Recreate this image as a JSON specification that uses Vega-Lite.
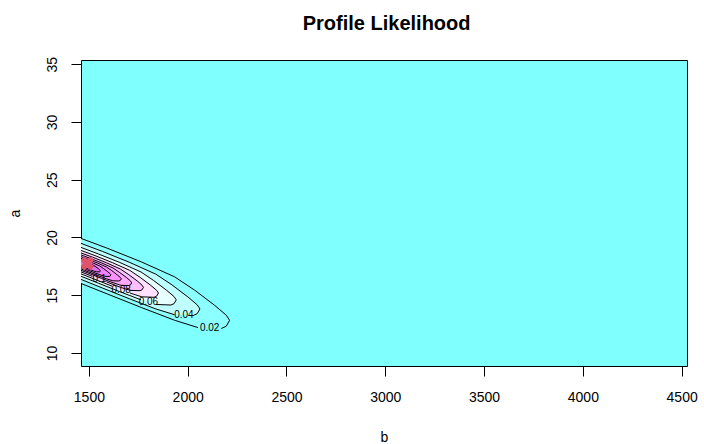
{
  "$schema": "https://vega.github.io/schema/vega-lite/v6.json",
  "width": 606,
  "height": 306,
  "autosize": "none",
  "padding": {"left": 81, "top": 60, "right": 17, "bottom": 78},
  "background": "white",
  "config": {
    "view": {"fill": "#80FFFF", "stroke": "black", "strokeWidth": 1},
    "font": "Liberation Sans",
    "axis": {
      "domain": false, "grid": false, "tickColor": "black", "tickSize": 10,
      "labelColor": "black", "labelFontSize": 14, "labelFont": "Liberation Sans",
      "titleColor": "black", "titleFontSize": 14, "titleFont": "Liberation Sans", "titleFontWeight": "normal",
      "labelFlush": false, "labelOverlap": false
    }
  },
  "title": {"text": "Profile Likelihood", "fontSize": 20, "fontWeight": "bold", "font": "Liberation Sans", "color": "black", "anchor": "middle", "frame": "group", "baseline": "alphabetic", "offset": 6.4, "dx": 2.6},
  "datasets": {
    "contours": [
      {"lev":0.02,"i":1,"b":1460,"a":19.92,"seg":1},{"lev":0.02,"i":2,"b":1596,"a":19.05,"seg":1},{"lev":0.02,"i":3,"b":1765,"a":17.89,"seg":1},{"lev":0.02,"i":4,"b":1934,"a":16.59,"seg":1},{"lev":0.02,"i":5,"b":2035,"a":15.44,"seg":1},{"lev":0.02,"i":6,"b":2136,"a":14.13,"seg":1},{"lev":0.02,"i":7,"b":2195,"a":13.27,"seg":1},{"lev":0.02,"i":8,"b":2212,"a":12.83,"seg":1},{"lev":0.02,"i":9,"b":2195,"a":12.31,"seg":1},{"lev":0.02,"i":10,"b":2170,"a":12.12,"seg":1},{"lev":0.02,"i":11,"b":2052,"a":12.20,"seg":2},{"lev":0.02,"i":12,"b":1934,"a":12.83,"seg":2},{"lev":0.02,"i":13,"b":1765,"a":13.94,"seg":2},{"lev":0.02,"i":14,"b":1596,"a":15.09,"seg":2},{"lev":0.02,"i":15,"b":1460,"a":16.02,"seg":2},
      {"lev":0.04,"i":1,"b":1460,"a":19.49,"seg":1},{"lev":0.04,"i":2,"b":1569,"a":18.79,"seg":1},{"lev":0.04,"i":3,"b":1704,"a":17.86,"seg":1},{"lev":0.04,"i":4,"b":1839,"a":16.82,"seg":1},{"lev":0.04,"i":5,"b":1920,"a":15.90,"seg":1},{"lev":0.04,"i":6,"b":2001,"a":14.85,"seg":1},{"lev":0.04,"i":7,"b":2048,"a":14.17,"seg":1},{"lev":0.04,"i":8,"b":2062,"a":13.81,"seg":1},{"lev":0.04,"i":9,"b":2048,"a":13.40,"seg":1},{"lev":0.04,"i":10,"b":2028,"a":13.25,"seg":1},{"lev":0.04,"i":11,"b":1934,"a":13.31,"seg":2},{"lev":0.04,"i":12,"b":1839,"a":13.81,"seg":2},{"lev":0.04,"i":13,"b":1704,"a":14.70,"seg":2},{"lev":0.04,"i":14,"b":1569,"a":15.62,"seg":2},{"lev":0.04,"i":15,"b":1460,"a":16.37,"seg":2},
      {"lev":0.06,"i":1,"b":1460,"a":19.14,"seg":1},{"lev":0.06,"i":2,"b":1547,"a":18.58,"seg":1},{"lev":0.06,"i":3,"b":1656,"a":17.84,"seg":1},{"lev":0.06,"i":4,"b":1764,"a":17.01,"seg":1},{"lev":0.06,"i":5,"b":1828,"a":16.27,"seg":1},{"lev":0.06,"i":6,"b":1893,"a":15.43,"seg":1},{"lev":0.06,"i":7,"b":1931,"a":14.88,"seg":1},{"lev":0.06,"i":8,"b":1942,"a":14.60,"seg":1},{"lev":0.06,"i":9,"b":1931,"a":14.27,"seg":1},{"lev":0.06,"i":10,"b":1915,"a":14.15,"seg":1},{"lev":0.06,"i":11,"b":1839,"a":14.20,"seg":1},{"lev":0.06,"i":12,"b":1764,"a":14.60,"seg":2},{"lev":0.06,"i":13,"b":1656,"a":15.31,"seg":2},{"lev":0.06,"i":14,"b":1547,"a":16.05,"seg":2},{"lev":0.06,"i":15,"b":1460,"a":16.64,"seg":2},
      {"lev":0.08,"i":1,"b":1460,"a":18.88,"seg":1},{"lev":0.08,"i":2,"b":1531,"a":18.43,"seg":1},{"lev":0.08,"i":3,"b":1619,"a":17.82,"seg":1},{"lev":0.08,"i":4,"b":1707,"a":17.15,"seg":1},{"lev":0.08,"i":5,"b":1759,"a":16.55,"seg":1},{"lev":0.08,"i":6,"b":1812,"a":15.87,"seg":1},{"lev":0.08,"i":7,"b":1843,"a":15.42,"seg":1},{"lev":0.08,"i":8,"b":1852,"a":15.19,"seg":1},{"lev":0.08,"i":9,"b":1843,"a":14.92,"seg":1},{"lev":0.08,"i":10,"b":1830,"a":14.82,"seg":1},{"lev":0.08,"i":11,"b":1768,"a":14.86,"seg":1},{"lev":0.08,"i":12,"b":1707,"a":15.19,"seg":1},{"lev":0.08,"i":13,"b":1619,"a":15.77,"seg":2},{"lev":0.08,"i":14,"b":1531,"a":16.37,"seg":2},{"lev":0.08,"i":15,"b":1460,"a":16.85,"seg":2},
      {"lev":0.1,"i":1,"b":1460,"a":18.66,"seg":1},{"lev":0.1,"i":2,"b":1518,"a":18.30,"seg":1},{"lev":0.1,"i":3,"b":1589,"a":17.81,"seg":1},{"lev":0.1,"i":4,"b":1660,"a":17.26,"seg":1},{"lev":0.1,"i":5,"b":1702,"a":16.78,"seg":1},{"lev":0.1,"i":6,"b":1745,"a":16.23,"seg":1},{"lev":0.1,"i":7,"b":1769,"a":15.87,"seg":1},{"lev":0.1,"i":8,"b":1776,"a":15.68,"seg":1},{"lev":0.1,"i":9,"b":1769,"a":15.47,"seg":1},{"lev":0.1,"i":10,"b":1759,"a":15.39,"seg":1},{"lev":0.1,"i":11,"b":1709,"a":15.42,"seg":1},{"lev":0.1,"i":12,"b":1660,"a":15.68,"seg":1},{"lev":0.1,"i":13,"b":1589,"a":16.15,"seg":1},{"lev":0.1,"i":14,"b":1518,"a":16.63,"seg":2},{"lev":0.1,"i":15,"b":1460,"a":17.02,"seg":2},
      {"lev":0.12,"i":1,"b":1460,"a":18.49,"seg":1},{"lev":0.12,"i":2,"b":1507,"a":18.19,"seg":1},{"lev":0.12,"i":3,"b":1564,"a":17.80,"seg":1},{"lev":0.12,"i":4,"b":1622,"a":17.36,"seg":1},{"lev":0.12,"i":5,"b":1656,"a":16.96,"seg":1},{"lev":0.12,"i":6,"b":1691,"a":16.52,"seg":1},{"lev":0.12,"i":7,"b":1711,"a":16.23,"seg":1},{"lev":0.12,"i":8,"b":1716,"a":16.08,"seg":1},{"lev":0.12,"i":9,"b":1711,"a":15.90,"seg":1},{"lev":0.12,"i":10,"b":1702,"a":15.84,"seg":1},{"lev":0.12,"i":11,"b":1662,"a":15.86,"seg":1},{"lev":0.12,"i":12,"b":1622,"a":16.08,"seg":1},{"lev":0.12,"i":13,"b":1564,"a":16.45,"seg":1},{"lev":0.12,"i":14,"b":1507,"a":16.85,"seg":1},{"lev":0.12,"i":15,"b":1460,"a":17.16,"seg":1},
      {"lev":0.14,"i":1,"b":1460,"a":18.34,"seg":1},{"lev":0.14,"i":2,"b":1497,"a":18.10,"seg":1},{"lev":0.14,"i":3,"b":1543,"a":17.79,"seg":1},{"lev":0.14,"i":4,"b":1589,"a":17.44,"seg":1},{"lev":0.14,"i":5,"b":1616,"a":17.13,"seg":1},{"lev":0.14,"i":6,"b":1643,"a":16.77,"seg":1},{"lev":0.14,"i":7,"b":1659,"a":16.54,"seg":1},{"lev":0.14,"i":8,"b":1664,"a":16.42,"seg":1},{"lev":0.14,"i":9,"b":1659,"a":16.28,"seg":1},{"lev":0.14,"i":10,"b":1652,"a":16.23,"seg":1},{"lev":0.14,"i":11,"b":1621,"a":16.25,"seg":1},{"lev":0.14,"i":12,"b":1589,"a":16.42,"seg":1},{"lev":0.14,"i":13,"b":1543,"a":16.72,"seg":1},{"lev":0.14,"i":14,"b":1497,"a":17.03,"seg":1},{"lev":0.14,"i":15,"b":1460,"a":17.28,"seg":1},
      {"lev":0.16,"i":1,"b":1460,"a":18.18,"seg":1},{"lev":0.16,"i":2,"b":1488,"a":18.01,"seg":1},{"lev":0.16,"i":3,"b":1522,"a":17.78,"seg":1},{"lev":0.16,"i":4,"b":1556,"a":17.52,"seg":1},{"lev":0.16,"i":5,"b":1576,"a":17.29,"seg":1},{"lev":0.16,"i":6,"b":1596,"a":17.03,"seg":1},{"lev":0.16,"i":7,"b":1608,"a":16.85,"seg":1},{"lev":0.16,"i":8,"b":1611,"a":16.77,"seg":1},{"lev":0.16,"i":9,"b":1608,"a":16.66,"seg":1},{"lev":0.16,"i":10,"b":1603,"a":16.62,"seg":1},{"lev":0.16,"i":11,"b":1579,"a":16.64,"seg":1},{"lev":0.16,"i":12,"b":1556,"a":16.77,"seg":1},{"lev":0.16,"i":13,"b":1522,"a":16.99,"seg":1},{"lev":0.16,"i":14,"b":1488,"a":17.22,"seg":1},{"lev":0.16,"i":15,"b":1460,"a":17.40,"seg":1},
      {"lev":0.18,"i":1,"b":1460,"a":18.03,"seg":1},{"lev":0.18,"i":2,"b":1479,"a":17.92,"seg":1},{"lev":0.18,"i":3,"b":1501,"a":17.77,"seg":1},{"lev":0.18,"i":4,"b":1522,"a":17.60,"seg":1},{"lev":0.18,"i":5,"b":1536,"a":17.45,"seg":1},{"lev":0.18,"i":6,"b":1549,"a":17.28,"seg":1},{"lev":0.18,"i":7,"b":1556,"a":17.17,"seg":1},{"lev":0.18,"i":8,"b":1559,"a":17.11,"seg":1},{"lev":0.18,"i":9,"b":1556,"a":17.04,"seg":1},{"lev":0.18,"i":10,"b":1553,"a":17.02,"seg":1},{"lev":0.18,"i":11,"b":1538,"a":17.03,"seg":1},{"lev":0.18,"i":12,"b":1522,"a":17.11,"seg":1},{"lev":0.18,"i":13,"b":1501,"a":17.25,"seg":1},{"lev":0.18,"i":14,"b":1479,"a":17.40,"seg":1},{"lev":0.18,"i":15,"b":1460,"a":17.52,"seg":1}
    ],
    "labels": [
      {"lab":"0.02","b":2111,"a":12.16},
      {"lab":"0.04","b":1981,"a":13.28},
      {"lab":"0.06","b":1801,"a":14.40},
      {"lab":"0.08","b":1663,"a":15.48},
      {"lab":"0.1","b":1553,"a":16.39}
    ],
    "mle": [{"b":1492,"a":17.75}]
  },
  "layer": [
    {
      "data": {"name": "contours"},
      "mark": {"type": "line", "strokeWidth": 0, "clip": true, "interpolate": "linear"},
      "encoding": {
        "x": {"field": "b", "type": "quantitative", "scale": {"domain": [1460, 4527], "nice": false, "zero": false},
              "axis": {"values": [1500, 2000, 2500, 3000, 3500, 4000, 4500], "format": "d", "labelBaseline": "alphabetic", "labelPadding": 25, "title": "b", "titleX": 303, "titleY": 75.3, "titleBaseline": "alphabetic", "titleAlign": "center", "titleAnchor": null}},
        "y": {"field": "a", "type": "quantitative", "scale": {"domain": [8.87, 35.37], "nice": false, "zero": false},
              "axis": {"values": [10, 15, 20, 25, 30, 35], "format": "d", "labelAngle": -90, "labelAlign": "center", "labelBaseline": "alphabetic", "labelPadding": 15, "title": "a", "titleAngle": -90, "titleX": -62, "titleY": 153, "titleBaseline": "alphabetic", "titleAlign": "center", "titleAnchor": null}},
        "fill": {"field": "lev", "type": "ordinal", "legend": null,
                 "scale": {"domain": [0.02, 0.04, 0.06, 0.08, 0.1, 0.12, 0.14, 0.16, 0.18],
                           "range": ["#8CFFFF", "#C0FFFF", "#E8FFFF", "#FFE0FF", "#FFC0FF", "#FFA8FF", "#FF90FF", "#F080FF", "#E070F0"]}},
        "order": {"field": "i", "type": "quantitative"}
      }
    },
    {
      "data": {"name": "contours"},
      "mark": {"type": "line", "color": "black", "strokeWidth": 1, "clip": true},
      "encoding": {
        "x": {"field": "b", "type": "quantitative"},
        "y": {"field": "a", "type": "quantitative"},
        "detail": [{"field": "lev", "type": "nominal"}, {"field": "seg", "type": "nominal"}],
        "order": {"field": "i", "type": "quantitative"}
      }
    },
    {
      "data": {"name": "labels"},
      "mark": {"type": "text", "fontSize": 10, "font": "Liberation Sans", "color": "black", "align": "center", "baseline": "middle"},
      "encoding": {
        "x": {"field": "b", "type": "quantitative"},
        "y": {"field": "a", "type": "quantitative"},
        "text": {"field": "lab", "type": "nominal"}
      }
    },
    {
      "data": {"name": "mle"},
      "mark": {"type": "point", "shape": "cross", "angle": 45, "filled": true, "color": "#DF536B", "strokeWidth": 0, "size": 200, "opacity": 1, "clip": true},
      "encoding": {
        "x": {"field": "b", "type": "quantitative"},
        "y": {"field": "a", "type": "quantitative"}
      }
    }
  ]
}
